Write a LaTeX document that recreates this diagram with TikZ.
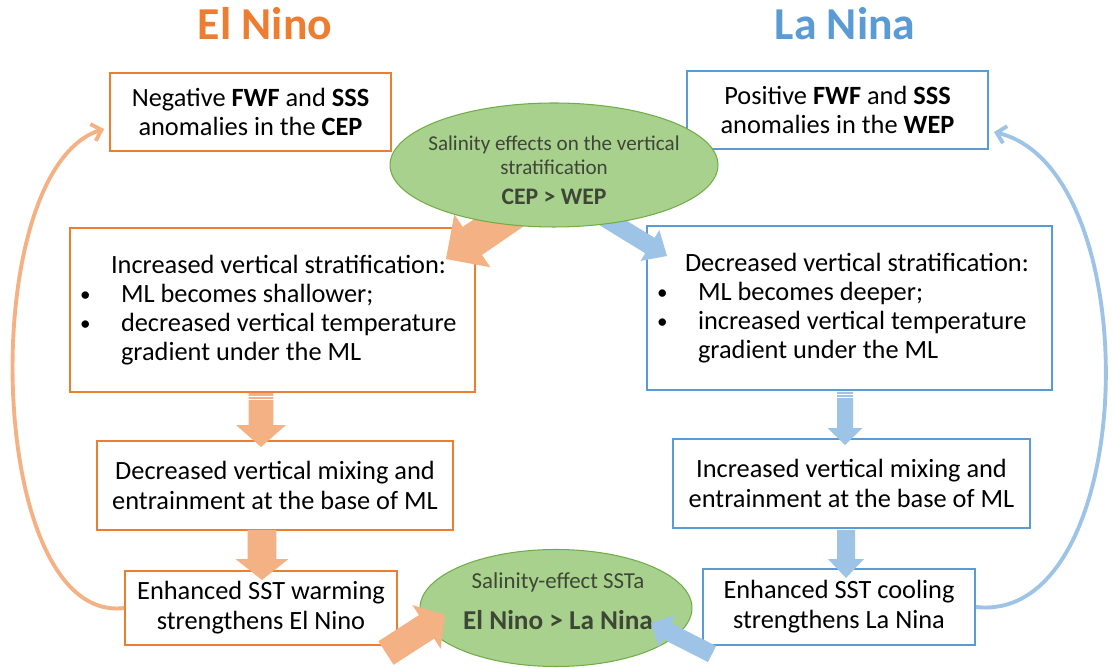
\documentclass[tikz,border=0pt]{standalone}
\usepackage{fontspec}
\setmainfont{Carlito}
\usetikzlibrary{arrows.meta,positioning,calc,shapes.geometric}
\definecolor{ninoline}{RGB}{237,125,49}
\definecolor{ninofill}{RGB}{244,177,131}
\definecolor{ninaline}{RGB}{91,155,213}
\definecolor{ninafill}{RGB}{157,195,230}
\definecolor{saltfill}{RGB}{169,209,142}
\definecolor{saltline}{RGB}{112,173,71}
\definecolor{salttext}{RGB}{62,70,54}

\begin{document}
\begin{tikzpicture}[x=0.02cm,y=-0.02cm,
      mybox/.style={
         draw=#1,
         line width=1.1pt,
         fill=white,
         align=center,
         inner sep=0pt,
         font=\fontsize{15}{17}\selectfont},
      listbox/.style={
         mybox=#1,
         align=flush left,
         text width=7.7cm,
         font=\fontsize{15}{16.5}\selectfont},
      myellipse/.style={
         ellipse,
         draw=saltline,
         line width=0.6pt,
         fill=saltfill,
         inner sep=0pt},
      salttext/.style={align=center, text=salttext, inner sep=0pt},
      mytitle/.style={font=\fontsize{26}{30}\selectfont\bfseries, text=#1},
      backarrow/.style={draw=#1, line width=2.2pt, -{Straight Barb[length=5pt,width=10pt]}}
      ]
      \useasboundingbox (0,0) rectangle (1113,668);
      \newcommand{\dotitem}{\makebox[0.82cm][l]{\raisebox{0.5pt}{\fontsize{12}{12}\selectfont\textbullet}}}

      \node[mytitle=ninoline] (tnino) at (265,24) {El Nino};
      \node[mytitle=ninaline] (tnina) at (845,24) {La Nina};

      % El Nino column
      \node[mybox=ninoline, minimum width=5.62cm, minimum height=1.56cm] (n1) at (250.5,112)
         {Negative \textbf{FWF} and \textbf{SSS}\\anomalies in the \textbf{CEP}};
      \node[listbox=ninoline, minimum width=8.1cm, minimum height=3.28cm] (n2) at (272.5,310)
         {\hspace*{0.62cm}Increased vertical stratification:\\
          \dotitem ML becomes shallower;\\
          \dotitem decreased vertical temperature\\
          \hspace*{0.82cm}gradient under the ML};
      \node[mybox=ninoline, minimum width=7.12cm, minimum height=1.78cm] (n3) at (275,485.5)
         {Decreased vertical mixing and\\entrainment at the base of ML};
      \node[mybox=ninoline, minimum width=5.44cm, minimum height=1.48cm] (n4) at (261,608)
         {Enhanced SST warming\\strengthens El Nino};

      % La Nina column
      \node[mybox=ninaline, minimum width=6.02cm, minimum height=1.56cm] (a1) at (837.5,110)
         {Positive \textbf{FWF} and \textbf{SSS}\\anomalies in the \textbf{WEP}};
      \node[listbox=ninaline, minimum width=8.1cm, minimum height=3.28cm] (a2) at (849.5,308)
         {\hspace*{0.56cm}Decreased vertical stratification:\\
          \dotitem ML becomes deeper;\\
          \dotitem increased vertical temperature\\
          \hspace*{0.82cm}gradient under the ML};
      \node[mybox=ninaline, minimum width=7.14cm, minimum height=1.78cm] (a3) at (851.5,483.5)
         {Increased vertical mixing and\\entrainment at the base of ML};
      \node[mybox=ninaline, minimum width=5.44cm, minimum height=1.52cm] (a4) at (839,607)
         {Enhanced SST cooling\\strengthens La Nina};

      % ends of the block arrows
      \coordinate (s1) at (532,200);  \coordinate (e1) at (446,259);
      \coordinate (s2) at (600,215);  \coordinate (e2) at (667,256);
      \coordinate (s3) at (261,393);  \coordinate (e3) at (261,447);
      \coordinate (s4) at (262,530);  \coordinate (e4) at (262,580);
      \coordinate (s5) at (845,392);  \coordinate (e5) at (845,445);
      \coordinate (s6) at (846,530);  \coordinate (e6) at (846,578);
      \coordinate (s7) at (386,653);  \coordinate (e7) at (445,615);
      \coordinate (s8) at (712,654);  \coordinate (e8) at (651,623);

      \foreach \i/\j/\sw/\hw/\hl/\col in {% tail/tip/half shaft/half head/head length/colour
        s1/e1/0.34cm/0.64cm/0.64cm/ninofill,
        s2/e2/0.18cm/0.36cm/0.40cm/ninafill}
      {
        \coordinate (hb) at ($(\j)!\hl!(\i)$);
        \fill[\col] ($(\i)!\sw!90:(\j)$) -- ($(hb)!\sw!90:(\j)$) -- ($(hb)!\hw!90:(\j)$) -- (\j)
           -- ($(hb)!\hw!-90:(\j)$) -- ($(hb)!\sw!-90:(\j)$) -- ($(\i)!\sw!-90:(\j)$) -- cycle;
      }

      \node[myellipse, minimum width=6.56cm, minimum height=2.48cm] (strat) at (554,165) {};
      \node[salttext, font=\fontsize{12}{14}\selectfont] (strattxt) at (554,170)
         {Salinity effects on the vertical\\stratification\\[3pt]
          \fontsize{13.5}{16}\selectfont\bfseries CEP > WEP};
      \node[myellipse, minimum width=5.44cm, minimum height=2.34cm] (sst) at (556,608) {};
      \node[salttext, font=\fontsize{13}{15}\selectfont] (ssttxt) at (558,601)
         {Salinity-effect SSTa\\[8pt]
          \fontsize{15.5}{18}\selectfont\bfseries El Nino > La Nina};

      \foreach \i/\j/\sw/\hw/\hl/\col in {%
        s3/e3/0.25cm/0.50cm/0.44cm/ninofill,
        s4/e4/0.29cm/0.53cm/0.42cm/ninofill,
        s5/e5/0.16cm/0.35cm/0.34cm/ninafill,
        s6/e6/0.18cm/0.36cm/0.38cm/ninafill,
        s7/e7/0.28cm/0.52cm/0.44cm/ninofill,
        s8/e8/0.18cm/0.36cm/0.36cm/ninafill}
      {
        \coordinate (hb) at ($(\j)!\hl!(\i)$);
        \fill[\col] ($(\i)!\sw!90:(\j)$) -- ($(hb)!\sw!90:(\j)$) -- ($(hb)!\hw!90:(\j)$) -- (\j)
           -- ($(hb)!\hw!-90:(\j)$) -- ($(hb)!\sw!-90:(\j)$) -- ($(\i)!\sw!-90:(\j)$) -- cycle;
      }

      % stripes at the tail of the first arrows
      \foreach \x/\w/\y/\t in {261/13/396.5/0.6pt, 261/13/399.3/0.9pt,
                               845/9/394.5/0.6pt, 845/9/397.3/0.9pt}
        \draw[white, line width=\t] (\x-\w,\y) -- (\x+\w,\y);

      % feedback loops
      \draw[backarrow=ninofill] (n4.west) .. controls (-15,625) and (-25,170) .. ($(n1.west)+(-5,17)$);
      \draw[backarrow=ninafill] (a4.east) .. controls (1140,625) and (1150,170) .. ($(a1.east)+(5,22)$);
\end{tikzpicture}
\end{document}
